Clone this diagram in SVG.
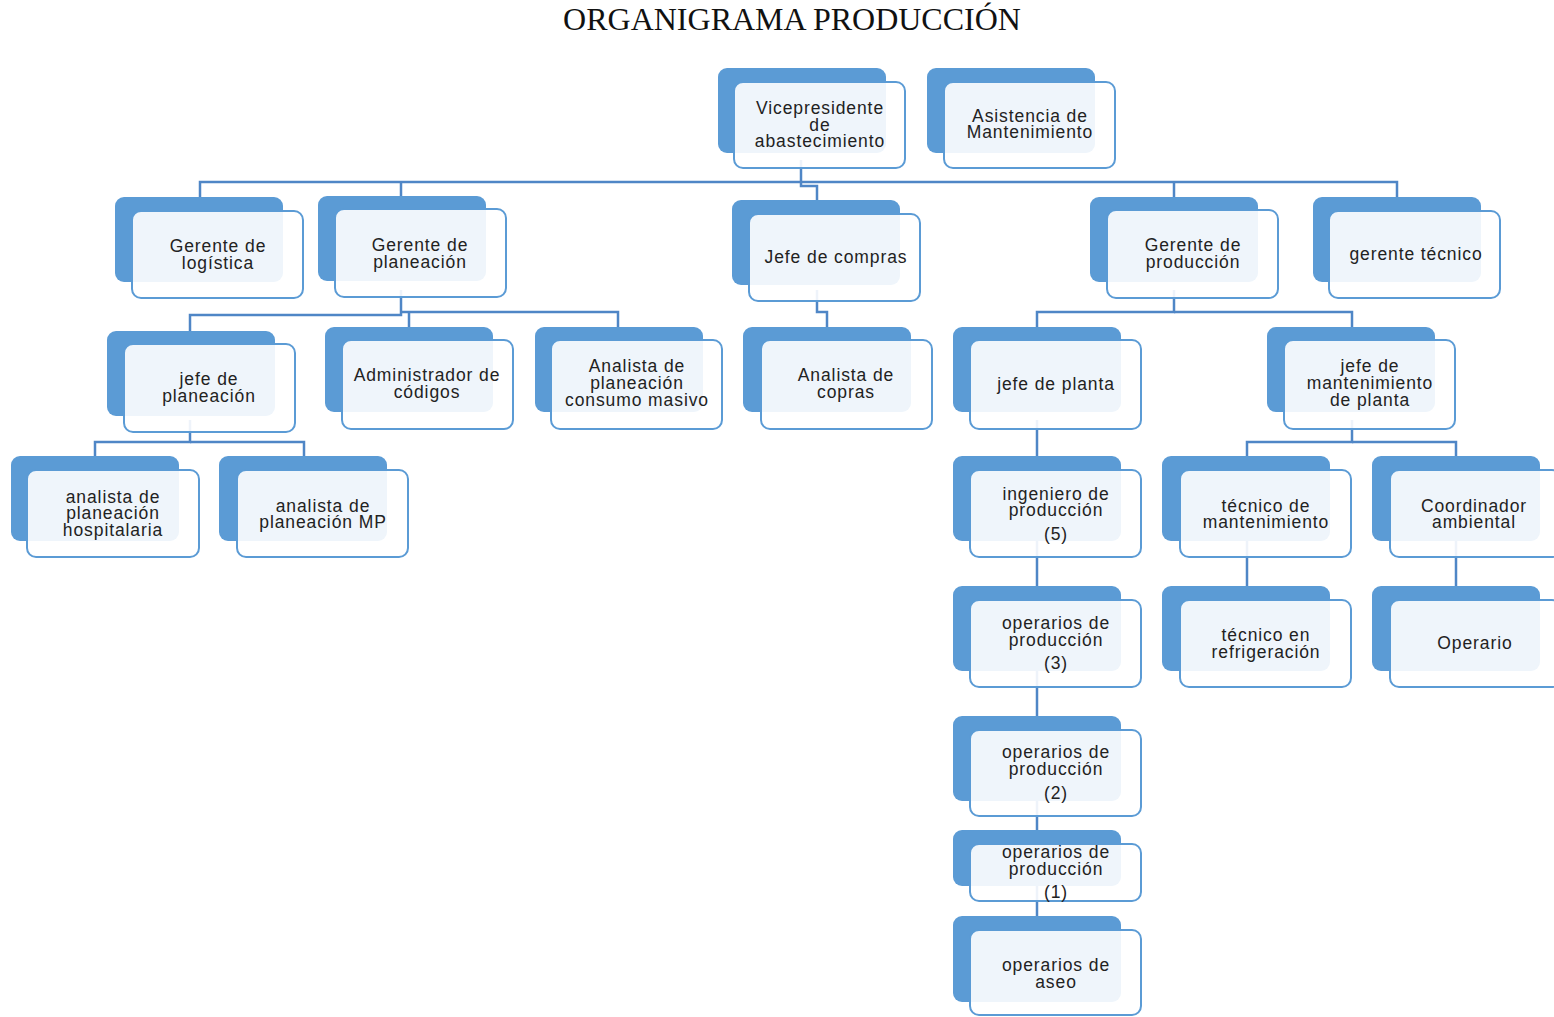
<svg xmlns="http://www.w3.org/2000/svg" width="1554" height="1017" viewBox="0 0 1554 1017">
<style>
.bk{fill:#5B9BD5}
.fr{fill:#ffffff;fill-opacity:0.9;stroke:#5B9BD5;stroke-width:2}
.t{font-family:"Liberation Sans",Arial,sans-serif;font-size:17.5px;fill:#222;text-anchor:middle;letter-spacing:0.9px}
.ttl{font-family:"Liberation Serif","Times New Roman",serif;font-size:32px;fill:#111;text-anchor:middle}
.c{fill:none;stroke:#4F86C6;stroke-width:2.5}
</style>
<rect width="1554" height="1017" fill="#ffffff"/>
<text class="ttl" x="792" y="30">ORGANIGRAMA PRODUCCIÓN</text>
<g id="connectors">
<path class="c" d="M801,160 V186 H817 V200"/>
<path class="c" d="M200,197 V182 H1397 V197"/>
<path class="c" d="M401,182 V196"/>
<path class="c" d="M1174,182 V197"/>
<path class="c" d="M401,290 V315 H190 V331"/>
<path class="c" d="M401,312 H618 V327"/>
<path class="c" d="M409,312 V327"/>
<path class="c" d="M817,290 V312 H827 V327"/>
<path class="c" d="M1174,290 V312 H1037 V327"/>
<path class="c" d="M1174,312 H1352 V327"/>
<path class="c" d="M190,420 V442 H95 V456"/>
<path class="c" d="M190,442 H304 V456"/>
<path class="c" d="M1037,420 V916"/>
<path class="c" d="M1352,420 V442 H1247 V586"/>
<path class="c" d="M1352,442 H1456 V586"/>
</g>
<g id="n-vicepresidente"><rect class="bk" x="718" y="68" width="168" height="85" rx="9"/><rect class="fr" x="734" y="82" width="171" height="86" rx="9"/><text class="t"><tspan x="820" y="114">Vicepresidente</tspan><tspan x="820" y="131">de</tspan><tspan x="820" y="147">abastecimiento</tspan></text></g>
<g id="n-asistencia"><rect class="bk" x="927" y="68" width="168" height="85" rx="9"/><rect class="fr" x="944" y="82" width="171" height="86" rx="9"/><text class="t"><tspan x="1030" y="122">Asistencia de</tspan><tspan x="1030" y="138">Mantenimiento</tspan></text></g>
<g id="n-logistica"><rect class="bk" x="115" y="197" width="168" height="85" rx="9"/><rect class="fr" x="132" y="211" width="171" height="87" rx="9"/><text class="t"><tspan x="218" y="252">Gerente de</tspan><tspan x="218" y="269">logística</tspan></text></g>
<g id="n-g-planeacion"><rect class="bk" x="318" y="196" width="168" height="85" rx="9"/><rect class="fr" x="335" y="209" width="171" height="88" rx="9"/><text class="t"><tspan x="420" y="251">Gerente de</tspan><tspan x="420" y="268">planeación</tspan></text></g>
<g id="n-compras"><rect class="bk" x="732" y="200" width="168" height="85" rx="9"/><rect class="fr" x="749" y="214" width="171" height="87" rx="9"/><text class="t"><tspan x="836" y="263">Jefe de compras</tspan></text></g>
<g id="n-g-produccion"><rect class="bk" x="1090" y="197" width="168" height="85" rx="9"/><rect class="fr" x="1107" y="210" width="171" height="88" rx="9"/><text class="t"><tspan x="1193" y="251">Gerente de</tspan><tspan x="1193" y="268">producción</tspan></text></g>
<g id="n-tecnico"><rect class="bk" x="1313" y="197" width="168" height="85" rx="9"/><rect class="fr" x="1329" y="211" width="171" height="87" rx="9"/><text class="t"><tspan x="1416" y="260">gerente técnico</tspan></text></g>
<g id="n-jefe-planeacion"><rect class="bk" x="107" y="331" width="168" height="85" rx="9"/><rect class="fr" x="124" y="344" width="171" height="88" rx="9"/><text class="t"><tspan x="209" y="385">jefe de</tspan><tspan x="209" y="402">planeación</tspan></text></g>
<g id="n-administrador"><rect class="bk" x="325" y="327" width="168" height="85" rx="9"/><rect class="fr" x="342" y="340" width="171" height="89" rx="9"/><text class="t"><tspan x="427" y="381">Administrador de</tspan><tspan x="427" y="398">códigos</tspan></text></g>
<g id="n-consumo"><rect class="bk" x="535" y="327" width="168" height="85" rx="9"/><rect class="fr" x="551" y="340" width="171" height="89" rx="9"/><text class="t"><tspan x="637" y="372">Analista de</tspan><tspan x="637" y="389">planeación</tspan><tspan x="637" y="406">consumo masivo</tspan></text></g>
<g id="n-copras"><rect class="bk" x="743" y="327" width="168" height="85" rx="9"/><rect class="fr" x="761" y="340" width="171" height="89" rx="9"/><text class="t"><tspan x="846" y="381">Analista de</tspan><tspan x="846" y="398">copras</tspan></text></g>
<g id="n-planta"><rect class="bk" x="953" y="327" width="168" height="85" rx="9"/><rect class="fr" x="970" y="340" width="171" height="89" rx="9"/><text class="t"><tspan x="1056" y="390">jefe de planta</tspan></text></g>
<g id="n-mantenimiento"><rect class="bk" x="1267" y="327" width="168" height="85" rx="9"/><rect class="fr" x="1284" y="340" width="171" height="89" rx="9"/><text class="t"><tspan x="1370" y="372">jefe de</tspan><tspan x="1370" y="389">mantenimiento</tspan><tspan x="1370" y="406">de planta</tspan></text></g>
<g id="n-hospitalaria"><rect class="bk" x="11" y="456" width="168" height="85" rx="9"/><rect class="fr" x="27" y="470" width="172" height="87" rx="9"/><text class="t"><tspan x="113" y="503">analista de</tspan><tspan x="113" y="519">planeación</tspan><tspan x="113" y="536">hospitalaria</tspan></text></g>
<g id="n-mp"><rect class="bk" x="219" y="456" width="168" height="85" rx="9"/><rect class="fr" x="237" y="470" width="171" height="87" rx="9"/><text class="t"><tspan x="323" y="512">analista de</tspan><tspan x="323" y="528">planeación MP</tspan></text></g>
<g id="n-ingeniero"><rect class="bk" x="953" y="456" width="168" height="85" rx="9"/><rect class="fr" x="970" y="470" width="171" height="87" rx="9"/><text class="t"><tspan x="1056" y="500">ingeniero de</tspan><tspan x="1056" y="516">producción</tspan><tspan x="1056" y="540">(5)</tspan></text></g>
<g id="n-tec-mant"><rect class="bk" x="1162" y="456" width="168" height="85" rx="9"/><rect class="fr" x="1180" y="470" width="171" height="87" rx="9"/><text class="t"><tspan x="1266" y="512">técnico de</tspan><tspan x="1266" y="528">mantenimiento</tspan></text></g>
<g id="n-coordinador"><rect class="bk" x="1372" y="456" width="168" height="85" rx="9"/><rect class="fr" x="1390" y="470" width="171" height="87" rx="9"/><text class="t"><tspan x="1474" y="512">Coordinador</tspan><tspan x="1474" y="528">ambiental</tspan></text></g>
<g id="n-operarios3"><rect class="bk" x="953" y="586" width="168" height="85" rx="9"/><rect class="fr" x="970" y="600" width="171" height="87" rx="9"/><text class="t"><tspan x="1056" y="629">operarios de</tspan><tspan x="1056" y="646">producción</tspan><tspan x="1056" y="669">(3)</tspan></text></g>
<g id="n-refrigeracion"><rect class="bk" x="1162" y="586" width="168" height="85" rx="9"/><rect class="fr" x="1180" y="600" width="171" height="87" rx="9"/><text class="t"><tspan x="1266" y="641">técnico en</tspan><tspan x="1266" y="658">refrigeración</tspan></text></g>
<g id="n-operario"><rect class="bk" x="1372" y="586" width="168" height="85" rx="9"/><rect class="fr" x="1390" y="600" width="171" height="87" rx="9"/><text class="t"><tspan x="1475" y="649">Operario</tspan></text></g>
<g id="n-operarios2"><rect class="bk" x="953" y="716" width="168" height="85" rx="9"/><rect class="fr" x="970" y="730" width="171" height="86" rx="9"/><text class="t"><tspan x="1056" y="758">operarios de</tspan><tspan x="1056" y="775">producción</tspan><tspan x="1056" y="799">(2)</tspan></text></g>
<g id="n-operarios1"><rect class="bk" x="953" y="830" width="168" height="56" rx="9"/><rect class="fr" x="970" y="844" width="171" height="57" rx="9"/><text class="t"><tspan x="1056" y="858">operarios de</tspan><tspan x="1056" y="875">producción</tspan><tspan x="1056" y="898">(1)</tspan></text></g>
<g id="n-aseo"><rect class="bk" x="953" y="916" width="168" height="86" rx="9"/><rect class="fr" x="970" y="930" width="171" height="85" rx="9"/><text class="t"><tspan x="1056" y="971">operarios de</tspan><tspan x="1056" y="988">aseo</tspan></text></g>
</svg>
